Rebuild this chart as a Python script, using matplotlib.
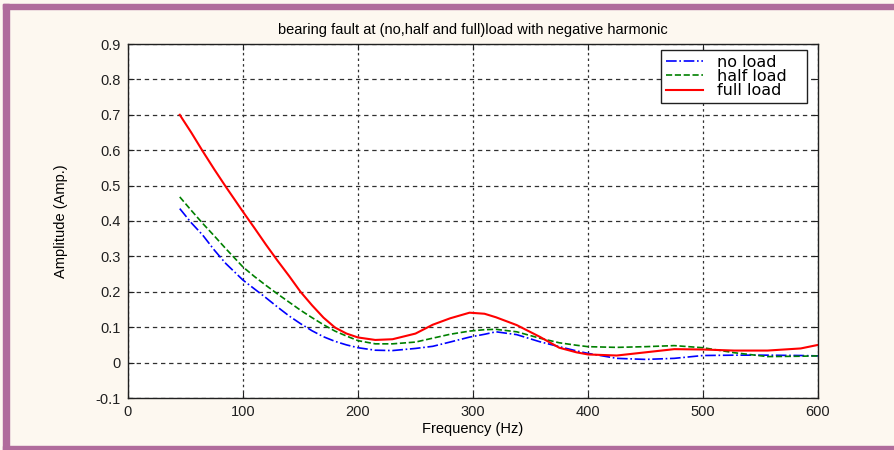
import numpy as np
import matplotlib
matplotlib.use('Agg')
import matplotlib.pyplot as plt
from matplotlib.patches import Rectangle

plt.rcParams['font.family'] = ['Liberation Sans', 'DejaVu Sans']

# frequencies (Hz) and amplitudes
freq = [45, 55, 65, 75, 85, 100, 110, 120, 130, 140, 150, 160, 170, 180, 190, 200,
        215, 230, 250, 265, 280, 297, 310, 320, 338, 358, 375, 390, 400, 425, 450,
        475, 500, 527, 556, 585, 600]
no_load = [0.435, 0.395, 0.36, 0.318, 0.28, 0.233, 0.208, 0.183, 0.157, 0.132, 0.11,
           0.09, 0.073, 0.060, 0.050, 0.042, 0.035, 0.034, 0.040, 0.046, 0.058,
           0.072, 0.080, 0.087, 0.079, 0.059, 0.045, 0.033, 0.026, 0.012, 0.009,
           0.012, 0.020, 0.021, 0.021, 0.020, 0.019]
half_load = [0.468, 0.43, 0.393, 0.358, 0.322, 0.27, 0.243, 0.218, 0.194, 0.171, 0.148,
             0.127, 0.107, 0.089, 0.075, 0.062, 0.053, 0.053, 0.058, 0.069, 0.080,
             0.089, 0.093, 0.094, 0.087, 0.069, 0.056, 0.049, 0.045, 0.043, 0.045,
             0.048, 0.042, 0.028, 0.017, 0.018, 0.019]
full_load = [0.70, 0.65, 0.597, 0.546, 0.497, 0.426, 0.38, 0.333, 0.288, 0.245, 0.20,
             0.162, 0.127, 0.099, 0.082, 0.071, 0.064, 0.066, 0.082, 0.107, 0.125,
             0.141, 0.138, 0.128, 0.106, 0.073, 0.042, 0.029, 0.023, 0.020, 0.029,
             0.038, 0.037, 0.034, 0.034, 0.040, 0.050]

xticks = [0, 100, 200, 300, 400, 500, 600]
yticks = [-0.1, 0, 0.1, 0.2, 0.3, 0.4, 0.5, 0.6, 0.7, 0.8, 0.9]
ylabels = ['-0.1', '0', '0.1', '0.2', '0.3', '0.4', '0.5', '0.6', '0.7', '0.8', '0.9']

fig = plt.figure(figsize=(8.94, 4.5), dpi=100)
fig.patch.set_facecolor('#fdf8f0')

# purple frame (open on the right side)
purple = '#b06c9c'
fig.patches.append(Rectangle((3 / 894, 0), 6 / 894, 1 - 4 / 450, transform=fig.transFigure,
                             color=purple, zorder=0))
fig.patches.append(Rectangle((3 / 894, 1 - 9 / 450), 1, 5 / 450, transform=fig.transFigure,
                             color=purple, zorder=0))
fig.patches.append(Rectangle((3 / 894, 0), 1, 4 / 450, transform=fig.transFigure,
                             color=purple, zorder=0))

ax = fig.add_axes([128 / 894, 52 / 450, 690 / 894, 354 / 450])
ax.set_facecolor('white')

# trailing spaces give the legend box its extra right-hand room
ax.plot(freq, no_load, color='#0000ff', linestyle='-.', linewidth=1.2, label='no load   ')
ax.plot(freq, half_load, color='#008000', linestyle='--', linewidth=1.2, label='half load   ')
ax.plot(freq, full_load, color='#ff0000', linestyle='-', linewidth=1.5, label='full load   ')

ax.set_xlim(0, 600)
ax.set_ylim(-0.1, 0.9)
ax.set_xticks(xticks)
ax.set_yticks(yticks)
ax.set_yticklabels(ylabels)
ax.tick_params(direction='in', length=4, labelsize=10.5, colors='#202020', pad=5,
               top=True, right=True)
ax.xaxis.grid(True, color='#303030', linestyle=(0, (2, 2.5)), linewidth=0.9)
ax.yaxis.grid(True, color='#303030', linestyle=(0, (3.5, 3)), linewidth=0.9)
for s in ax.spines.values():
    s.set_linewidth(1.0)
    s.set_color('#202020')

ax.set_xlabel('Frequency (Hz)', fontsize=10.5, labelpad=2)
ax.set_ylabel('Amplitude (Amp.)', fontsize=10.5, labelpad=20)
ax.set_title('bearing fault at (no,half and full)load with negative harmonic',
             fontsize=10.5, pad=7)

leg = ax.legend(loc='upper right', bbox_to_anchor=(0.984, 0.983),
                prop={'family': 'DejaVu Sans', 'size': 11.5},
                fancybox=False, framealpha=1, edgecolor='#202020', borderpad=0.3,
                handlelength=2.3, handletextpad=0.9, labelspacing=-0.05,
                borderaxespad=0.0)
leg.get_frame().set_linewidth(1.0)

fig.savefig('out.png', dpi=100, facecolor=fig.get_facecolor())
